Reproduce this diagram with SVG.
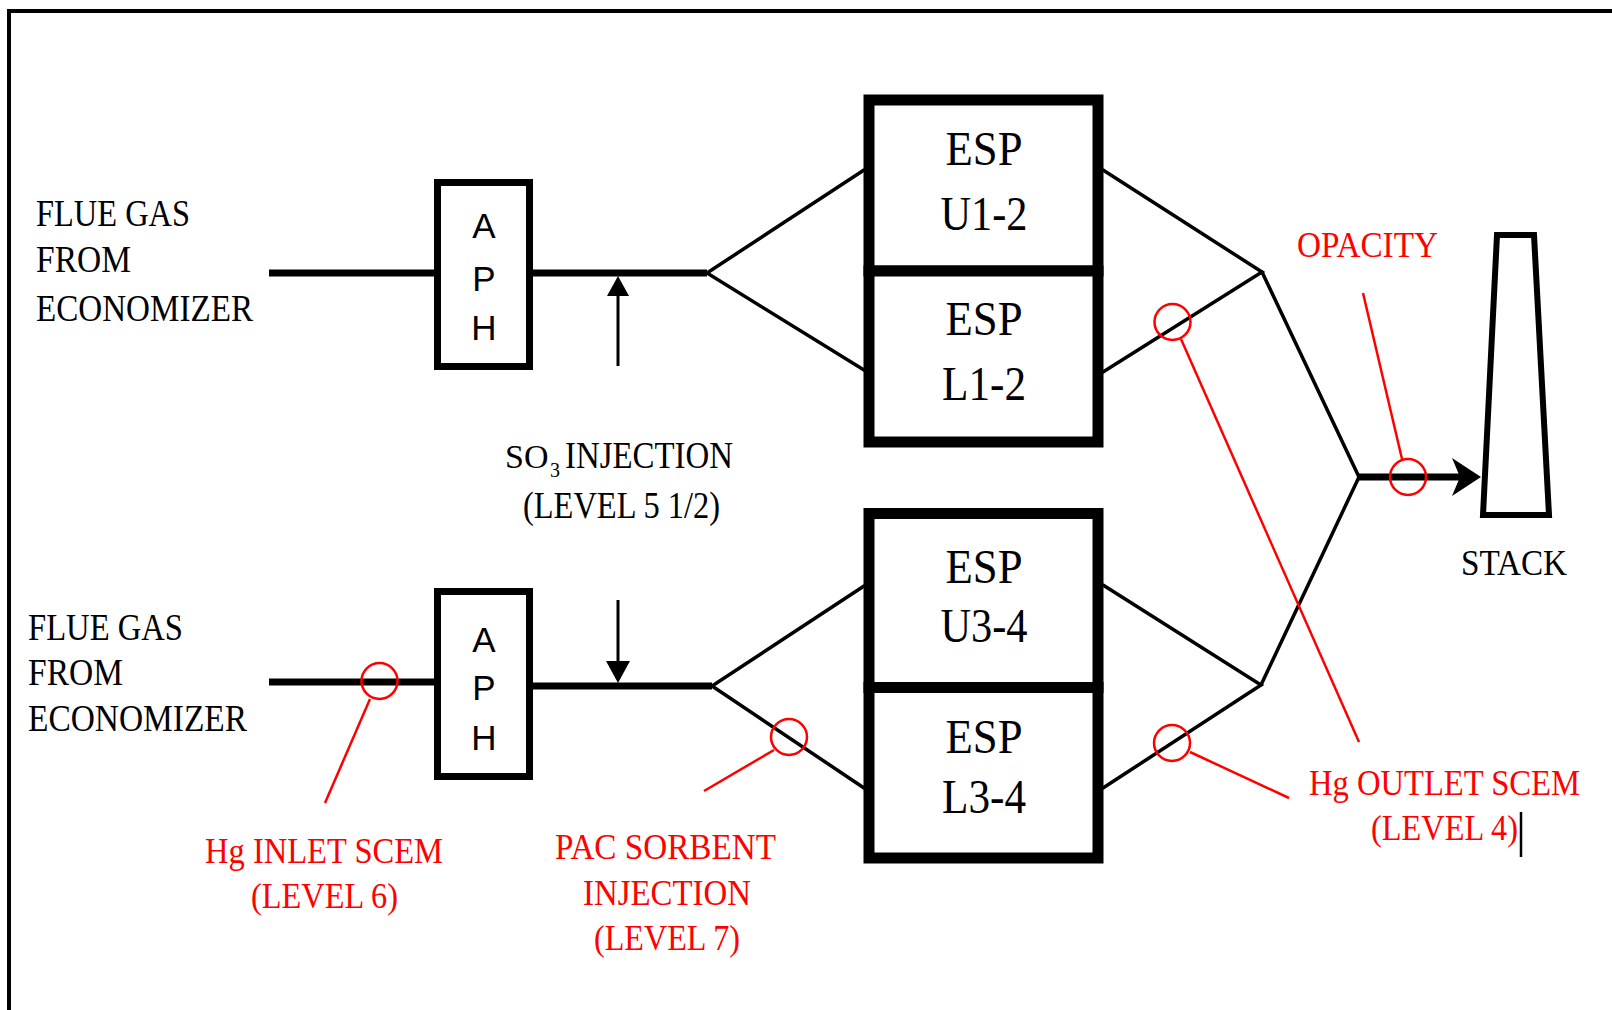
<svg xmlns="http://www.w3.org/2000/svg" width="1612" height="1010" viewBox="0 0 1612 1010">
<style>
.t{font-family:"Liberation Serif","Times New Roman",serif;font-size:37px;fill:#000}
.r{fill:#ff0000;font-size:35px}
.esp{font-size:48px;text-anchor:middle}
.sub{font-size:20px}
.so{font-size:34px}
.aph{font-family:"Liberation Sans",Arial,sans-serif;font-size:35px;text-anchor:middle;fill:#000}
.box{fill:#fff;stroke:#000}
.thick{stroke:#000;stroke-width:7;fill:none}
.thin{stroke:#000;stroke-width:3.5;fill:none;stroke-linecap:round}
.rl{stroke:#ff0000;stroke-width:2.5;fill:none}
</style>
<rect width="1612" height="1010" fill="#fff"/>
<g id="frame"><path d="M9 1010 V11 H1612" fill="none" stroke="#000" stroke-width="4"/></g>

<g id="connectors">
  <line class="thick" x1="269" y1="273" x2="437" y2="273"/>
  <line class="thick" x1="530" y1="273" x2="707" y2="273"/>
  <polyline class="thin" points="864,170 707,273 864,370"/>
  <polyline class="thin" points="1103,170 1262,272 1103,372"/>
  <line class="thin" x1="1262" y1="272" x2="1359" y2="477"/>
  <line class="thick" x1="269" y1="682" x2="437" y2="682"/>
  <line class="thick" x1="530" y1="686" x2="712" y2="686"/>
  <polyline class="thin" points="864,586 712,686 864,788"/>
  <polyline class="thin" points="1103,585 1261,685 1103,788"/>
  <line class="thin" x1="1261" y1="685" x2="1359" y2="477"/>
  <line class="thick" x1="1359" y1="477" x2="1460" y2="477"/>
  <polygon points="1481,477 1452,458 1460,477 1452,496" fill="#000"/>
  <line stroke="#000" stroke-width="3" x1="618" y1="366" x2="618" y2="292"/>
  <polygon points="618,276 607,296 629,296" fill="#000"/>
  <line stroke="#000" stroke-width="3" x1="618" y1="600" x2="618" y2="664"/>
  <polygon points="618,683 606,661 630,661" fill="#000"/>
</g>

<g id="flue-top">
  <text class="t" x="36" y="226" textLength="154" lengthAdjust="spacingAndGlyphs">FLUE GAS</text>
  <text class="t" x="36" y="272" textLength="95" lengthAdjust="spacingAndGlyphs">FROM</text>
  <text class="t" x="36" y="321" textLength="217" lengthAdjust="spacingAndGlyphs">ECONOMIZER</text>
</g>
<g id="flue-bottom">
  <text class="t" x="28" y="640" textLength="155" lengthAdjust="spacingAndGlyphs">FLUE GAS</text>
  <text class="t" x="28" y="685" textLength="95" lengthAdjust="spacingAndGlyphs">FROM</text>
  <text class="t" x="28" y="731" textLength="219" lengthAdjust="spacingAndGlyphs">ECONOMIZER</text>
</g>

<g id="aph-top">
  <rect class="box" x="437.5" y="182.5" width="92" height="184" stroke-width="7"/>
  <text class="aph" x="484" y="238">A</text>
  <text class="aph" x="484" y="291">P</text>
  <text class="aph" x="484" y="340">H</text>
</g>
<g id="aph-bottom">
  <rect class="box" x="437.5" y="591.5" width="92" height="185" stroke-width="7"/>
  <text class="aph" x="484" y="652">A</text>
  <text class="aph" x="484" y="700">P</text>
  <text class="aph" x="484" y="750">H</text>
</g>

<g id="so3-injection">
  <text class="t so" x="505" y="468">SO</text>
  <text class="t sub" x="550" y="477">3</text>
  <text class="t" x="565" y="468" textLength="168" lengthAdjust="spacingAndGlyphs">INJECTION</text>
  <text class="t" x="523" y="518" textLength="197" lengthAdjust="spacingAndGlyphs">(LEVEL 5 1/2)</text>
</g>

<g id="esp-u12">
  <rect class="box" x="869" y="100" width="229" height="171" stroke-width="11"/>
  <text class="t esp" x="984" y="165" textLength="77" lengthAdjust="spacingAndGlyphs">ESP</text>
  <text class="t esp" x="984" y="230" textLength="87" lengthAdjust="spacingAndGlyphs">U1-2</text>
</g>
<g id="esp-l12">
  <rect class="box" x="869" y="271" width="229" height="171" stroke-width="11"/>
  <text class="t esp" x="984" y="335" textLength="77" lengthAdjust="spacingAndGlyphs">ESP</text>
  <text class="t esp" x="984" y="400" textLength="84" lengthAdjust="spacingAndGlyphs">L1-2</text>
</g>
<g id="esp-u34">
  <rect class="box" x="869" y="513.5" width="229" height="174" stroke-width="11"/>
  <text class="t esp" x="984" y="583" textLength="77" lengthAdjust="spacingAndGlyphs">ESP</text>
  <text class="t esp" x="984" y="642" textLength="87" lengthAdjust="spacingAndGlyphs">U3-4</text>
</g>
<g id="esp-l34">
  <rect class="box" x="869" y="687.5" width="229" height="170.5" stroke-width="11"/>
  <text class="t esp" x="984" y="753" textLength="77" lengthAdjust="spacingAndGlyphs">ESP</text>
  <text class="t esp" x="984" y="813" textLength="84" lengthAdjust="spacingAndGlyphs">L3-4</text>
</g>

<g id="stack">
  <polygon points="1497,235 1534,235 1549,515 1483,515" fill="#fff" stroke="#000" stroke-width="6" stroke-linejoin="miter"/>
  <text class="t" x="1461" y="575" textLength="106" lengthAdjust="spacingAndGlyphs" style="font-size:35px">STACK</text>
</g>

<g id="hg-inlet">
  <circle class="rl" cx="379.5" cy="681" r="18"/>
  <line class="rl" x1="370" y1="699" x2="325" y2="803"/>
  <text class="t r" x="205" y="863" textLength="238" lengthAdjust="spacingAndGlyphs">Hg INLET SCEM</text>
  <text class="t r" x="251" y="908" textLength="147" lengthAdjust="spacingAndGlyphs">(LEVEL 6)</text>
</g>
<g id="pac-injection">
  <circle class="rl" cx="789" cy="737" r="18"/>
  <line class="rl" x1="774" y1="750" x2="704" y2="791"/>
  <text class="t r" x="555" y="859" textLength="221" lengthAdjust="spacingAndGlyphs">PAC SORBENT</text>
  <text class="t r" x="583" y="905" textLength="168" lengthAdjust="spacingAndGlyphs">INJECTION</text>
  <text class="t r" x="594" y="950" textLength="146" lengthAdjust="spacingAndGlyphs">(LEVEL 7)</text>
</g>
<g id="hg-outlet">
  <circle class="rl" cx="1172.5" cy="322" r="18"/>
  <line class="rl" x1="1181" y1="339" x2="1359" y2="742"/>
  <circle class="rl" cx="1172" cy="743" r="18"/>
  <line class="rl" x1="1190" y1="752" x2="1289" y2="798"/>
  <text class="t r" x="1309" y="795" textLength="271" lengthAdjust="spacingAndGlyphs">Hg OUTLET SCEM</text>
  <text class="t r" x="1371" y="840" textLength="147" lengthAdjust="spacingAndGlyphs">(LEVEL 4)</text>
  <line x1="1521" y1="812" x2="1521" y2="857" stroke="#000" stroke-width="2.5"/>
</g>
<g id="opacity">
  <circle class="rl" cx="1408" cy="477" r="18"/>
  <line class="rl" x1="1363" y1="293" x2="1402" y2="459"/>
  <text class="t r" x="1297" y="257" textLength="141" lengthAdjust="spacingAndGlyphs">OPACITY</text>
</g>
</svg>
